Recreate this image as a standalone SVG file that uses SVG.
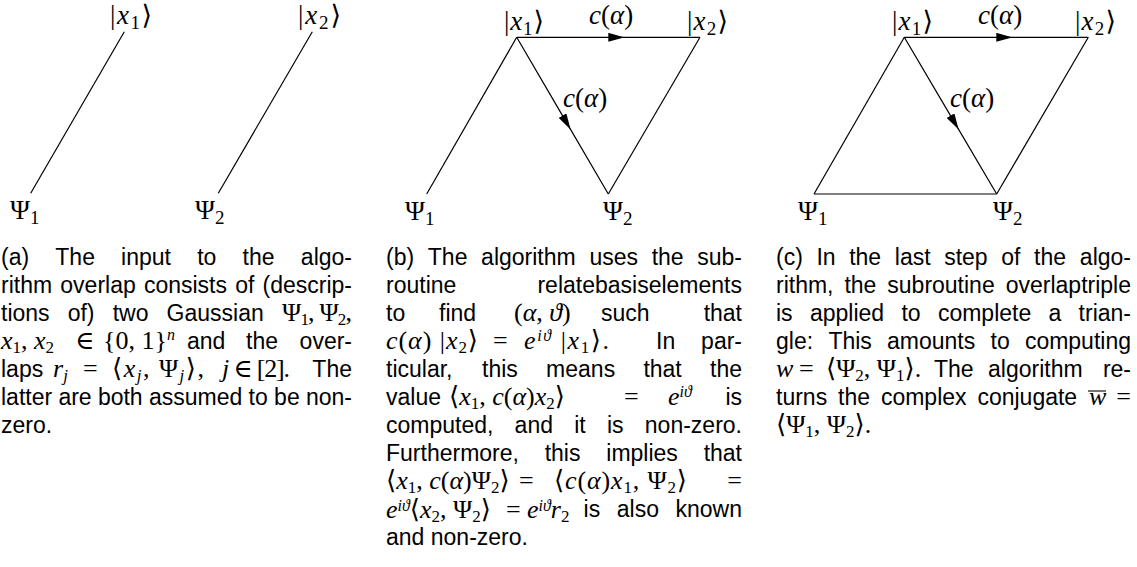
<svg xmlns="http://www.w3.org/2000/svg" width="1137" height="567" viewBox="0 0 1137 567">
<style>
.cap{font-family:"Liberation Sans",Arial,sans-serif;font-size:23px;fill:#000}
.m{font-family:"Liberation Serif","DejaVu Serif",serif;font-size:26px;fill:#000}
.lbl{font-family:"Liberation Serif","DejaVu Serif",serif;font-size:27px;fill:#000}
.i{font-style:italic}
.sb{font-size:17px}
.sp{font-size:16px}
.ls{font-size:19px}
.edge{stroke:#000;stroke-width:1.2;fill:none}
.arr{marker-mid:url(#mid)}
.bar{stroke:#000;stroke-width:1.1}
</style>
<defs>
<marker id="mid" viewBox="0 0 16 9" refX="0" refY="4.5" markerWidth="16" markerHeight="9" markerUnits="userSpaceOnUse" orient="auto"><path d="M0,0 L16,4.5 L0,9 z" fill="#000"/></marker>
</defs>
<rect width="1137" height="567" fill="#fff"/>

<!-- Panel (a) -->
<g id="a-connectors">
<line class="edge" x1="124.3" y1="31.7" x2="30.7" y2="193.3"/>
<line class="edge" x1="312.3" y1="31.7" x2="218.3" y2="193.3"/>
</g>
<g id="a-x1"><text class="lbl" x="110" y="24" textLength="42">|<tspan class="i">x</tspan><tspan class="ls" dy="5">1</tspan><tspan dy="-5">⟩</tspan></text></g>
<g id="a-x2"><text class="lbl" x="298" y="24" textLength="43">|<tspan class="i">x</tspan><tspan class="ls" dy="5">2</tspan><tspan dy="-5">⟩</tspan></text></g>
<g id="a-psi1"><text class="lbl" x="10" y="219">Ψ<tspan class="ls" dy="5">1</tspan></text></g>
<g id="a-psi2"><text class="lbl" x="195" y="219">Ψ<tspan class="ls" dy="5">2</tspan></text></g>

<!-- Panel (b) -->
<g id="b-connectors">
<line class="edge" x1="426.7" y1="194" x2="516.7" y2="37.3"/>
<path class="edge arr" d="M516.7,37.3 L608.3,37.3 L700,37.3"/>
<path class="edge arr" d="M516.7,37.3 L562.5,115.65 L608.3,194"/>
<line class="edge" x1="608.3" y1="194" x2="700" y2="37.3"/>
<text class="lbl" x="589" y="24"><tspan class="i">c</tspan>(<tspan class="i">α</tspan>)</text>
<text class="lbl" x="563" y="107"><tspan class="i">c</tspan>(<tspan class="i">α</tspan>)</text>
</g>
<g id="b-x1"><text class="lbl" x="504" y="30" textLength="40">|<tspan class="i">x</tspan><tspan class="ls" dy="5">1</tspan><tspan dy="-5">⟩</tspan></text></g>
<g id="b-x2"><text class="lbl" x="687" y="30" textLength="41">|<tspan class="i">x</tspan><tspan class="ls" dy="5">2</tspan><tspan dy="-5">⟩</tspan></text></g>
<g id="b-psi1"><text class="lbl" x="405" y="220">Ψ<tspan class="ls" dy="5">1</tspan></text></g>
<g id="b-psi2"><text class="lbl" x="603" y="220">Ψ<tspan class="ls" dy="5">2</tspan></text></g>

<!-- Panel (c) -->
<g id="c-connectors">
<line class="edge" x1="814" y1="194" x2="904.3" y2="37.3"/>
<path class="edge arr" d="M904.3,37.3 L996.3,37.3 L1088.3,37.3"/>
<path class="edge arr" d="M904.3,37.3 L950.5,115.65 L996.7,194"/>
<line class="edge" x1="814" y1="194" x2="996.7" y2="194"/>
<line class="edge" x1="996.7" y1="194" x2="1088.3" y2="37.3"/>
<text class="lbl" x="978" y="24"><tspan class="i">c</tspan>(<tspan class="i">α</tspan>)</text>
<text class="lbl" x="950" y="107"><tspan class="i">c</tspan>(<tspan class="i">α</tspan>)</text>
</g>
<g id="c-x1"><text class="lbl" x="892" y="30" textLength="41">|<tspan class="i">x</tspan><tspan class="ls" dy="5">1</tspan><tspan dy="-5">⟩</tspan></text></g>
<g id="c-x2"><text class="lbl" x="1075" y="30" textLength="41">|<tspan class="i">x</tspan><tspan class="ls" dy="5">2</tspan><tspan dy="-5">⟩</tspan></text></g>
<g id="c-psi1"><text class="lbl" x="798" y="220">Ψ<tspan class="ls" dy="5">1</tspan></text></g>
<g id="c-psi2"><text class="lbl" x="993" y="220">Ψ<tspan class="ls" dy="5">2</tspan></text></g>

<!-- Caption (a) -->
<g id="caption-a">
<text class="cap" y="265"><tspan x="1">(a)</tspan><tspan x="55.3">The</tspan><tspan x="121.1">input</tspan><tspan x="197.2">to</tspan><tspan x="242.6">the</tspan></text>
<text class="cap" x="352" y="265" text-anchor="end">algo-</text>
<text class="cap" y="293"><tspan x="1">rithm</tspan><tspan x="60.3">overlap</tspan><tspan x="143.9">consists</tspan><tspan x="235.2">of</tspan></text>
<text class="cap" x="352" y="293" text-anchor="end">(descrip-</text>
<text class="cap" y="321"><tspan x="1">tions</tspan><tspan x="67.7">of)</tspan><tspan x="112.7">two</tspan><tspan x="166.6">Gaussian</tspan></text>
<text class="m" x="282" y="321" textLength="70">Ψ<tspan class="sb" dy="4">1</tspan><tspan dy="-4">, Ψ</tspan><tspan class="sb" dy="4">2</tspan><tspan dy="-4">,</tspan></text>
<text class="m" x="1" y="349"><tspan class="i">x</tspan><tspan class="sb" dy="4">1</tspan><tspan dy="-4">, </tspan><tspan class="i">x</tspan><tspan class="sb" dy="4">2</tspan></text>
<text class="m" x="75" y="349">∈</text>
<text class="m" x="103" y="349">{0, 1}<tspan class="sp i" dy="-9">n</tspan></text>
<text class="cap" y="349"><tspan x="187">and</tspan><tspan x="246">the</tspan></text>
<text class="cap" x="352" y="349" text-anchor="end">over-</text>
<text class="cap" x="1" y="377">laps</text>
<text class="m" x="53" y="377"><tspan class="i">r</tspan><tspan class="sb i" dy="4">j</tspan></text>
<text class="m" x="83" y="377">=</text>
<text class="m" x="112" y="377" textLength="92">⟨<tspan class="i">x</tspan><tspan class="sb i" dy="4">j</tspan><tspan dy="-4">, Ψ</tspan><tspan class="sb i" dy="4">j</tspan><tspan dy="-4">⟩,</tspan></text>
<text class="m" x="222" y="377" textLength="68"><tspan class="i">j</tspan> ∈ [2].</text>
<text class="cap" x="352" y="377" text-anchor="end">The</text>
<text class="cap" y="405"><tspan x="1">latter</tspan><tspan x="58.4">are</tspan><tspan x="97.9">both</tspan><tspan x="149">assumed</tspan><tspan x="248.6">to</tspan><tspan x="274.1">be</tspan></text>
<text class="cap" x="352" y="405" text-anchor="end">non-</text>
<text class="cap" x="1" y="433">zero.</text>
</g>

<!-- Caption (b) -->
<g id="caption-b">
<text class="cap" y="265"><tspan x="386">(b)</tspan><tspan x="427.8">The</tspan><tspan x="481.1">algorithm</tspan><tspan x="589.4">uses</tspan><tspan x="651.7">the</tspan></text>
<text class="cap" x="742" y="265" text-anchor="end">sub-</text>
<text class="cap" x="386" y="293">routine</text>
<text class="cap" x="742" y="293" text-anchor="end">relatebasiselements</text>
<text class="cap" y="321"><tspan x="386">to</tspan><tspan x="439">find</tspan><tspan x="601">such</tspan></text>
<text class="m" x="514" y="321">(<tspan class="i">α</tspan>, <tspan class="i">ϑ</tspan>)</text>
<text class="cap" x="742" y="321" text-anchor="end">that</text>
<text class="m" x="386" y="349" textLength="92"><tspan class="i">c</tspan>(<tspan class="i">α</tspan>) |<tspan class="i">x</tspan><tspan class="sb" dy="4">2</tspan><tspan dy="-4">⟩</tspan></text>
<text class="m" x="493" y="349">=</text>
<text class="m" x="524" y="349" textLength="85"><tspan class="i">e</tspan><tspan class="sp i" dy="-8">iϑ</tspan><tspan dy="8"> |</tspan><tspan class="i">x</tspan><tspan class="sb" dy="4">1</tspan><tspan dy="-4">⟩.</tspan></text>
<text class="cap" x="656" y="349">In</text>
<text class="cap" x="742" y="349" text-anchor="end">par-</text>
<text class="cap" y="377"><tspan x="386">ticular,</tspan><tspan x="482">this</tspan><tspan x="546.1">means</tspan><tspan x="643.4">that</tspan></text>
<text class="cap" x="742" y="377" text-anchor="end">the</text>
<text class="cap" x="386" y="405">value</text>
<text class="m" x="449" y="405">⟨<tspan class="i">x</tspan><tspan class="sb" dy="4">1</tspan><tspan dy="-4">, </tspan><tspan class="i">c</tspan>(<tspan class="i">α</tspan>)<tspan class="i">x</tspan><tspan class="sb" dy="4">2</tspan><tspan dy="-4">⟩</tspan></text>
<text class="m" x="624" y="405">=</text>
<text class="m" x="668" y="405"><tspan class="i">e</tspan><tspan class="sp i" dy="-8">iϑ</tspan></text>
<text class="cap" x="742" y="405" text-anchor="end">is</text>
<text class="cap" y="433"><tspan x="386">computed,</tspan><tspan x="514.6">and</tspan><tspan x="574.2">it</tspan><tspan x="606.9">is</tspan></text>
<text class="cap" x="742" y="433" text-anchor="end">non-zero.</text>
<text class="cap" y="461"><tspan x="386">Furthermore,</tspan><tspan x="544.7">this</tspan><tspan x="606.3">implies</tspan></text>
<text class="cap" x="742" y="461" text-anchor="end">that</text>
<text class="m" x="386" y="489">⟨<tspan class="i">x</tspan><tspan class="sb" dy="4">1</tspan><tspan dy="-4">, </tspan><tspan class="i">c</tspan>(<tspan class="i">α</tspan>)Ψ<tspan class="sb" dy="4">2</tspan><tspan dy="-4">⟩</tspan></text>
<text class="m" x="519" y="489">=</text>
<text class="m" x="554" y="489" textLength="133">⟨<tspan class="i">c</tspan>(<tspan class="i">α</tspan>)<tspan class="i">x</tspan><tspan class="sb" dy="4">1</tspan><tspan dy="-4">, Ψ</tspan><tspan class="sb" dy="4">2</tspan><tspan dy="-4">⟩</tspan></text>
<text class="m" x="742" y="489" text-anchor="end">=</text>
<text class="m" x="386" y="518"><tspan class="i">e</tspan><tspan class="sp i" dy="-7">iϑ</tspan><tspan dy="7">⟨</tspan><tspan class="i">x</tspan><tspan class="sb" dy="4">2</tspan><tspan dy="-4">, Ψ</tspan><tspan class="sb" dy="4">2</tspan><tspan dy="-4">⟩</tspan></text>
<text class="m" x="506" y="518">=</text>
<text class="m" x="527" y="518"><tspan class="i">e</tspan><tspan class="sp i" dy="-7">iϑ</tspan><tspan class="i" dy="7">r</tspan><tspan class="sb" dy="4">2</tspan></text>
<text class="cap" y="517"><tspan x="583.6">is</tspan><tspan x="616.8">also</tspan></text>
<text class="cap" x="742" y="517" text-anchor="end">known</text>
<text class="cap" x="386" y="545">and non-zero.</text>
</g>

<!-- Caption (c) -->
<g id="caption-c">
<text class="cap" y="265"><tspan x="776">(c)</tspan><tspan x="816.4">In</tspan><tspan x="849.2">the</tspan><tspan x="894.8">last</tspan><tspan x="944.2">step</tspan><tspan x="1001.3">of</tspan><tspan x="1034.1">the</tspan></text>
<text class="cap" x="1131" y="265" text-anchor="end">algo-</text>
<text class="cap" y="293"><tspan x="776">rithm,</tspan><tspan x="844.4">the</tspan><tspan x="887.3">subroutine</tspan></text>
<text class="cap" x="1131" y="293" text-anchor="end">overlaptriple</text>
<text class="cap" y="321"><tspan x="776">is</tspan><tspan x="809.9">applied</tspan><tspan x="901.4">to</tspan><tspan x="937.9">complete</tspan><tspan x="1048.5">a</tspan></text>
<text class="cap" x="1131" y="321" text-anchor="end">trian-</text>
<text class="cap" y="349"><tspan x="776">gle:</tspan><tspan x="828.4">This</tspan><tspan x="887">amounts</tspan><tspan x="990.5">to</tspan></text>
<text class="cap" x="1131" y="349" text-anchor="end">computing</text>
<text class="m i" x="776" y="377">w</text>
<text class="m" x="799" y="377">=</text>
<text class="m" x="826" y="377">⟨Ψ<tspan class="sb" dy="4">2</tspan><tspan dy="-4">, Ψ</tspan><tspan class="sb" dy="4">1</tspan><tspan dy="-4">⟩.</tspan></text>
<text class="cap" y="377"><tspan x="934">The</tspan><tspan x="988">algorithm</tspan></text>
<text class="cap" x="1131" y="377" text-anchor="end">re-</text>
<text class="cap" y="405"><tspan x="776">turns</tspan><tspan x="838">the</tspan><tspan x="880.9">complex</tspan><tspan x="977.4">conjugate</tspan></text>
<text class="m i" x="1089" y="405">w</text>
<line class="bar" x1="1088" y1="391" x2="1106" y2="391"/>
<text class="m" x="1131" y="405" text-anchor="end">=</text>
<text class="m" x="776" y="433">⟨Ψ<tspan class="sb" dy="4">1</tspan><tspan dy="-4">, Ψ</tspan><tspan class="sb" dy="4">2</tspan><tspan dy="-4">⟩.</tspan></text>
</g>
</svg>
